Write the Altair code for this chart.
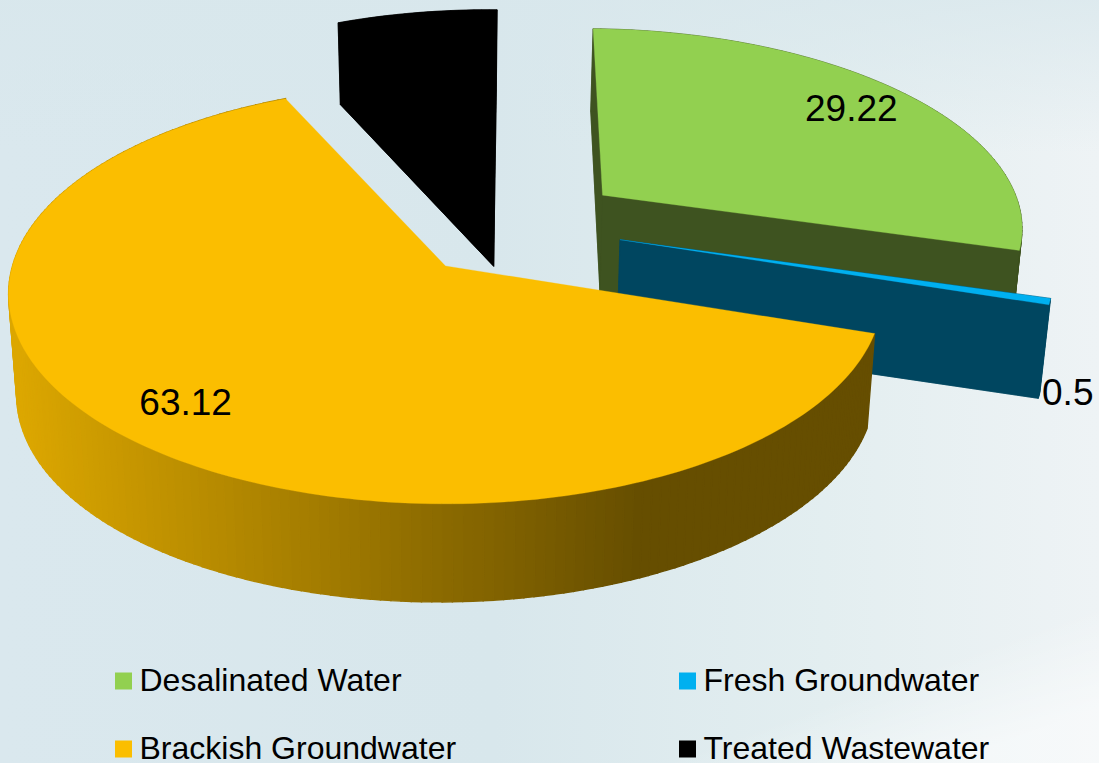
import numpy as np
import altair as alt

# Water supply shares, in pie order (clockwise from the first-slice angle)
categories = ["Desalinated Water", "Fresh Groundwater", "Brackish Groundwater", "Treated Wastewater"]
values = [29.22, 0.5, 63.12, 7.16]
top_colors = ["#92D050", "#00B0F0", "#FBBE00", "#000000"]
wall_colors = ["#3E5320", "#004660", None, "#000000"]
# How far each slice is pulled out, in disc radii (right, toward the viewer)
explode = [(0.38, -0.36), (0.41, -0.13), (0.0, 0.0), (0.12, -0.49)]
draw_order = [0, 3, 1, 2]
label_radius = [0.82, 1.04, 0.825, None]
label_drop = [0, 90, 0, 0]
first_slice_angle = 1.3

W, H = 1099, 763

# Cumulative slice angles in degrees
shares = np.array(values) / sum(values) * 360
ends = np.cumsum(shares) + first_slice_angle
starts = ends - shares

# Perspective camera looking down on the pie's top face
CX, CY = 445.5, 266.0
SCALE_X, SCALE_Y = 433.0, 170.7
FORESHORTEN = -0.1333

def project(theta, r=1.0, offset=(0.0, 0.0)):
    t = np.radians(theta)
    u = r * np.sin(t) + offset[0]
    v = -r * np.cos(t) + offset[1]
    w = 1 + FORESHORTEN * v
    return CX + SCALE_X * u / w, (CY + SCALE_Y * v) / w

def lower(pt):
    # The base of the pie: narrower toward the vanishing point, thinner to the right
    x, y = pt
    depth = min(98 - 0.0075 * (x - 450), 82 + 0.09 * (y - 25))
    return x + 0.018 * (460 - x), y + depth

def mix(c0, c1, t):
    a = [int(c0[i:i + 2], 16) for i in (1, 3, 5)]
    e = [int(c1[i:i + 2], 16) for i in (1, 3, 5)]
    return "#%02x%02x%02x" % tuple(round(p + (q - p) * t) for p, q in zip(a, e))

def wall_shade(x):
    # Side lighting fades from gold on the left to dark umber on the right
    t = np.clip((x - 15) / (640 - 15), 0, 1)
    return mix("#DCA700", "#664E00", t)

def feature(ring, color, edge=0.6):
    ring = [[float(x), float(y)] for x, y in ring]
    ring.append(ring[0])
    return {
        "type": "Feature",
        "geometry": {"type": "Polygon", "coordinates": [ring]},
        "properties": {"fill": color, "edge": edge},
    }

features = []
labels = []
for i in draw_order:
    offset = explode[i]
    n = max(2, int(shares[i] / 1.2))
    arc = [project(t, 1.0, offset) for t in np.linspace(starts[i], ends[i], n + 1)]
    apex = project(0, 0.0, offset)
    outline = [apex] + arc
    if wall_colors[i] is None:
        for p, q in zip(arc[:-1], arc[1:]):
            color = wall_shade((p[0] + q[0]) / 2)
            features.append(feature([p, q, lower(q), lower(p)], color, 1.4))
    else:
        closed = outline + [outline[0]]
        features.append(feature([lower(p) for p in outline], wall_colors[i]))
        for p, q in zip(closed[:-1], closed[1:]):
            features.append(feature([p, q, lower(q), lower(p)], wall_colors[i]))
    features.append(feature(outline, top_colors[i], 0.3))
    if label_radius[i] is not None:
        lx, ly = project((starts[i] + ends[i]) / 2, label_radius[i], offset)
        labels.append({"x": float(lx), "y": float(ly + label_drop[i]), "t": str(values[i])})

# Pale backdrop with soft light bands
def wash(stops, x1, y1, x2, y2):
    return alt.Chart(alt.Data(values=[{"k": 0}])).mark_rect(
        color=alt.LinearGradient(
            gradient="linear", x1=x1, y1=y1, x2=x2, y2=y2,
            stops=[alt.GradientStop(offset=o, color=c) for o, c in stops],
        )
    ).encode(x=alt.value(0), x2=alt.value(W), y=alt.value(0), y2=alt.value(H))

base_wash = wash(
    [(0, "#DAE8EE"), (0.45, "#D8E7EC"), (0.75, "#E3EEF0"), (1, "#EEF3F5")],
    0, 0, 1, 0,
)
top_wash = wash(
    [(0, "rgba(216,231,236,0.75)"), (0.2, "rgba(216,231,236,0)")],
    0, 0, 0, 1,
)
corner_wash = wash(
    [(0, "rgba(255,255,255,0)"), (1, "rgba(255,255,255,0.5)")],
    0.91, 0.84, 0.965, 0.945,
)

pie = alt.Chart(alt.Data(values=features)).mark_geoshape().encode(
    color=alt.Color("properties.fill:N", scale=None),
    stroke=alt.Stroke("properties.fill:N", scale=None),
    strokeWidth=alt.StrokeWidth("properties.edge:Q", scale=None),
).project(type="identity", scale=1, translate=[0, 0])

text = alt.Chart(alt.Data(values=labels)).mark_text(
    font="Liberation Sans", fontSize=37, color="#000000"
).encode(
    x=alt.X("x:Q", scale=None),
    y=alt.Y("y:Q", scale=None),
    text="t:N",
)

# Off-canvas squares exist only to carry the legend
key = alt.Chart(alt.Data(values=[{"c": c} for c in categories])).mark_square(size=289, opacity=1).encode(
    x=alt.value(-60),
    y=alt.value(-60),
    color=alt.Color(
        "c:N",
        scale=alt.Scale(domain=categories, range=top_colors),
        sort=categories,
        legend=alt.Legend(
            title=None,
            orient="none",
            direction="horizontal",
            legendX=107.5,
            legendY=665,
            columns=2,
            symbolType="square",
            symbolSize=289,
            symbolStrokeWidth=0,
            labelFont="Liberation Sans",
            labelFontSize=32,
            labelColor="#000000",
            labelOffset=0,
            labelLimit=500,
            columnPadding=215,
            rowPadding=36,
        ),
    ),
)

chart = alt.layer(base_wash, top_wash, corner_wash, pie, text, key).properties(
    width=W, height=H, padding=0, autosize=alt.AutoSizeParams(type="none")
).configure_view(stroke=None)

chart.save("out.html", embed_options={"renderer": "svg", "actions": False})
